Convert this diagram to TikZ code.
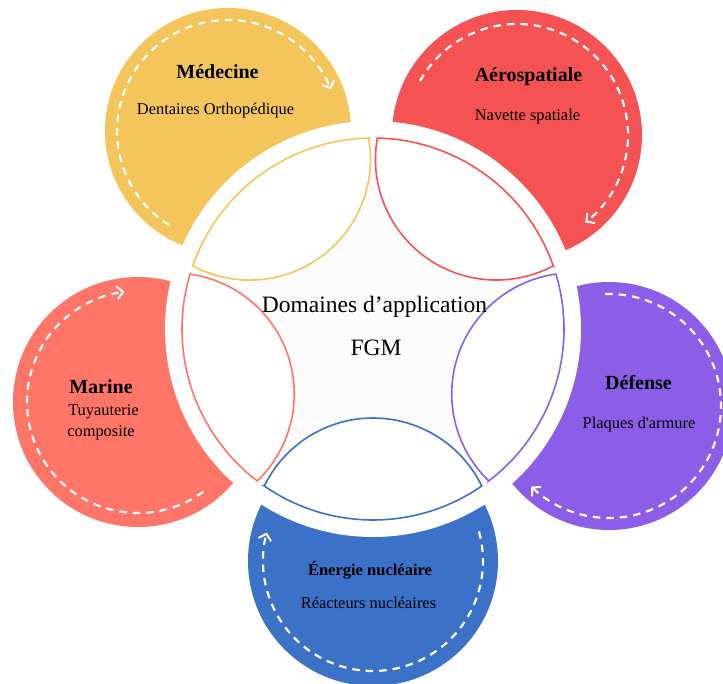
\documentclass[tikz,border=0pt]{standalone}
\usepackage{fontspec}
\setmainfont{Liberation Serif}
\newfontfamily\plainserif[Ligatures=ResetAll]{Liberation Serif}
\usetikzlibrary{arrows.meta}
\definecolor{cYel}{HTML}{F3C55B}
\definecolor{cRed}{HTML}{F55353}
\definecolor{cPur}{HTML}{8C5EE8}
\definecolor{cBlu}{HTML}{3B71C7}
\definecolor{cSal}{HTML}{FF7568}
\definecolor{cCen}{HTML}{FCFCFC}
\begin{document}
\begin{tikzpicture}[x=1pt,y=1pt,
  lensbox/.style={draw=#1, fill=white, line width=1.6pt},
  dashring/.style={draw=white, line width=2.2pt, dash pattern=on 7.5pt off 6pt,
     -{Straight Barb[length=6pt,width=13pt,line width=2pt]}},
  ttl/.style={font=\bfseries\fontsize{20}{24}\selectfont, anchor=base, inner sep=0pt},
  subtxt/.style={font=\fontsize{16.4}{20}\selectfont, anchor=base, inner sep=0pt},
  maintxt/.style={font=\fontsize{23.5}{28}\selectfont, anchor=base, inner sep=0pt}]
\useasboundingbox (-373,-355) rectangle (350,329);
\fill[white] (-373,-355) rectangle (350,329);

\coordinate (O) at (0,0);
\coordinate (pY) at (-145,198);
\coordinate (pR) at (144,194);
\coordinate (pP) at (236,-77);
\coordinate (pB) at (0,-232);
\coordinate (pS) at (-235,-73);

% petals
\fill[cYel] (pY) circle[radius=123];
\fill[cRed] (pR) circle[radius=125];
\fill[cPur] (pP) circle[radius=124];
\fill[cBlu] (pB) circle[radius=125];
\fill[cSal] (pS) circle[radius=125];
\fill[white] (O) circle[radius=208];
\fill[cCen] (O) circle[radius=191];

% lenses
\foreach \ang/\col in {126/cYel, 54/cRed, -18/cPur, -90/cBlu, 198/cSal}{
  \begin{scope}[rotate=\ang]
    \draw[lensbox=\col] (-34.7:191) arc[start angle=-34.7, end angle=34.7, radius=191]
      arc[start angle=115.95, end angle=244.05, radius=120.9] -- cycle;
  \end{scope}
}

% dashed arcs
\draw[dashring] (pY) ++(238:111) arc[start angle=238, end angle=22, radius=111];
\draw[dashring] (pR) ++(151:111) arc[start angle=151, end angle=-52, radius=111];
\draw[dashring] (pP) ++(92:112) arc[start angle=92, end angle=-134, radius=112];
\draw[dashring] (pB) ++(15.6:110) arc[start angle=15.6, end angle=-195, radius=110];
\draw[dashring] (pS) ++(-54:111) arc[start angle=-54, end angle=-263, radius=111];

% texts
\node[maintxt] (t0) at (1.5,16) {Domaines d’application};
\node[maintxt] (t1) at (3,-27) {FGM};
\node[ttl] (y1) at (-155.5,250) {Médecine};
\node[subtxt] (y2) at (-157.5,214) {Dentaires Orthopédique};
\node[ttl] (r1) at (155.5,247) {Aérospatiale};
\node[subtxt] (r2) at (154.5,208) {Navette spatiale};
\node[ttl] (s1) at (-272,-65) {Marine};
\node[subtxt] (s2) at (-269.5,-87) {Tuyauterie};
\node[subtxt] (s3) at (-272,-108) {composite};
\node[ttl] (p1) at (265.5,-61) {Défense};
\node[subtxt, font=\plainserif\fontsize{16.4}{20}\selectfont] (p2) at (266,-100) {Plaques d'armure};
\node[ttl, font=\bfseries\fontsize{16.5}{20}\selectfont] (b1) at (-3,-247) {Énergie nucléaire};
\node[subtxt] (b2) at (-4.5,-280) {Réacteurs nucléaires};
\end{tikzpicture}
\end{document}
